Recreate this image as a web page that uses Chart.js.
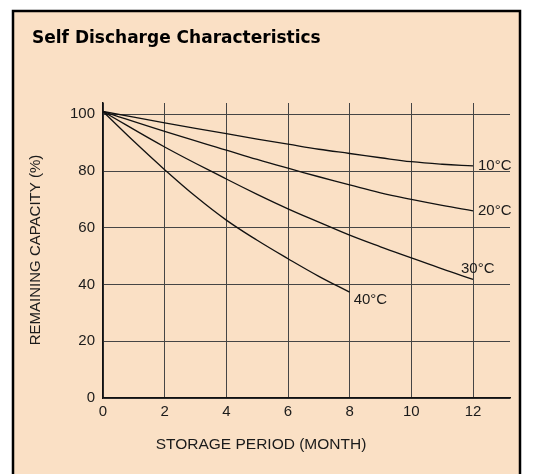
<!DOCTYPE html>
<html>
<head>
<meta charset="utf-8">
<script src="https://cdn.jsdelivr.net/npm/chart.js@4/dist/chart.umd.min.js"></script>
<style>
  html, body { margin: 0; padding: 0; background: #fff; }
  #wrap { width: 557px; height: 474px; position: relative; }
</style>
</head>
<body>
<div id="wrap"><canvas id="chartDischarge"></canvas></div>
<script>
// storage period (months) and remaining capacity (%) per temperature
const months = [0, 2, 4, 5, 6, 7, 8, 9, 10, 11, 12];
const months40 = [0, 1, 2, 3, 4, 5, 6, 7, 8];
const cap10 = [101, 97.0, 93.2, 91.3, 89.5, 87.7, 86.2, 84.7, 83.3, 82.4, 81.8];
const cap20 = [101, 94.0, 87.4, 84.1, 81.0, 78.0, 75.1, 72.3, 70.0, 67.9, 66.0];
const cap30 = [101, 88.5, 77.2, 71.8, 66.7, 62.0, 57.4, 53.3, 49.4, 45.5, 41.8];
const cap40 = [101, 90.5, 80.5, 71.1, 62.7, 55.6, 49.1, 42.9, 37.3];
const tempLabels = ["10°C", "20°C", "30°C", "40°C"];
const xTicks = [0, 2, 4, 6, 8, 10, 12];
const yTicks = [0, 20, 40, 60, 80, 100];

document.addEventListener("DOMContentLoaded", () => {
  const canvas = document.getElementById("chartDischarge");
  const ctx = canvas.getContext("2d");

  const FONT = "'Liberation Sans', Arial, Helvetica, sans-serif";
  const ink = "#1b1b1b";
  const series = [
    { x: months, y: cap10 },
    { x: months, y: cap20 },
    { x: months, y: cap30 },
    { x: months40, y: cap40 },
  ];
  // pixel nudges for the temperature labels at the end of each curve
  const labelNudge = [[5, 0], [5, 0], [-12, -11], [4, 8]];

  const toPoints = (s) => s.y.map((v, i) => ({ x: s.x[i], y: v }));

  const framePlugin = {
    id: "frame",
    beforeDraw(chart) {
      const c = chart.ctx;
      c.save();
      c.fillStyle = "#ffffff";
      c.fillRect(0, 0, chart.width, chart.height);
      c.fillStyle = "#fae0c5";
      c.fillRect(13, 11, 507, 470);
      c.strokeStyle = "#000";
      c.lineWidth = 2.5;
      c.strokeRect(13, 11, 507, 470);
      c.fillStyle = "#000";
      c.font = "bold 17px 'DejaVu Sans', Arial, sans-serif";
      c.textBaseline = "alphabetic";
      c.textAlign = "left";
      c.fillText("Self Discharge Characteristics", 32, 43);
      c.restore();
    },
    afterDatasetsDraw(chart) {
      const c = chart.ctx;
      const xs = chart.scales.x, ys = chart.scales.y;
      c.save();
      c.fillStyle = ink;
      c.font = "15px " + FONT;
      c.textAlign = "left";
      c.textBaseline = "middle";
      series.forEach((s, i) => {
        const last = s.y.length - 1;
        const px = xs.getPixelForValue(s.x[last]) + labelNudge[i][0];
        const py = ys.getPixelForValue(s.y[last]) + labelNudge[i][1];
        c.fillText(tempLabels[i], px, py);
      });
      // axis titles
      c.textAlign = "center";
      c.font = "15.5px " + FONT;
      c.fillText("STORAGE PERIOD (MONTH)", 261, 445);
      c.translate(36, 250);
      c.rotate(-Math.PI / 2);
      c.font = "15px " + FONT;
      c.fillText("REMAINING CAPACITY (%)", 0, 0);
      c.restore();
    },
  };

  const makeSet = (s, i) => ({
    label: tempLabels[i],
    data: toPoints(s),
    borderColor: "#111",
    borderWidth: 1.3,
    pointRadius: 0,
    fill: false,
    tension: 0.4,
  });

  new Chart(ctx, {
    type: "line",
    data: { datasets: series.map(makeSet) },
    options: {
      responsive: true,
      maintainAspectRatio: false,
      animation: false,
      layout: { padding: { top: 103, right: 47, left: 0, bottom: 0 } },
      plugins: { legend: { display: false }, tooltip: { enabled: false } },
      scales: {
        x: {
          type: "linear",
          min: 0,
          max: 13.2,
          afterBuildTicks: (s) => { s.ticks = xTicks.map((v) => ({ value: v })); },
          afterFit: (s) => { s.height = 76; },
          grid: { color: "#454545", lineWidth: 1, drawTicks: false },
          border: { color: "#111", width: 1.5 },
          ticks: { color: ink, font: { size: 15, family: FONT }, padding: 5, maxRotation: 0 },
        },
        y: {
          min: 0,
          max: 104,
          afterBuildTicks: (s) => { s.ticks = yTicks.map((v) => ({ value: v })); },
          afterFit: (s) => { s.width = 103; },
          grid: { color: "#454545", lineWidth: 1, drawTicks: false },
          border: { color: "#111", width: 1.5 },
          ticks: { color: ink, font: { size: 15, family: FONT }, padding: 8 },
        },
      },
    },
    plugins: [framePlugin],
  });
});
</script>
</body>
</html>
